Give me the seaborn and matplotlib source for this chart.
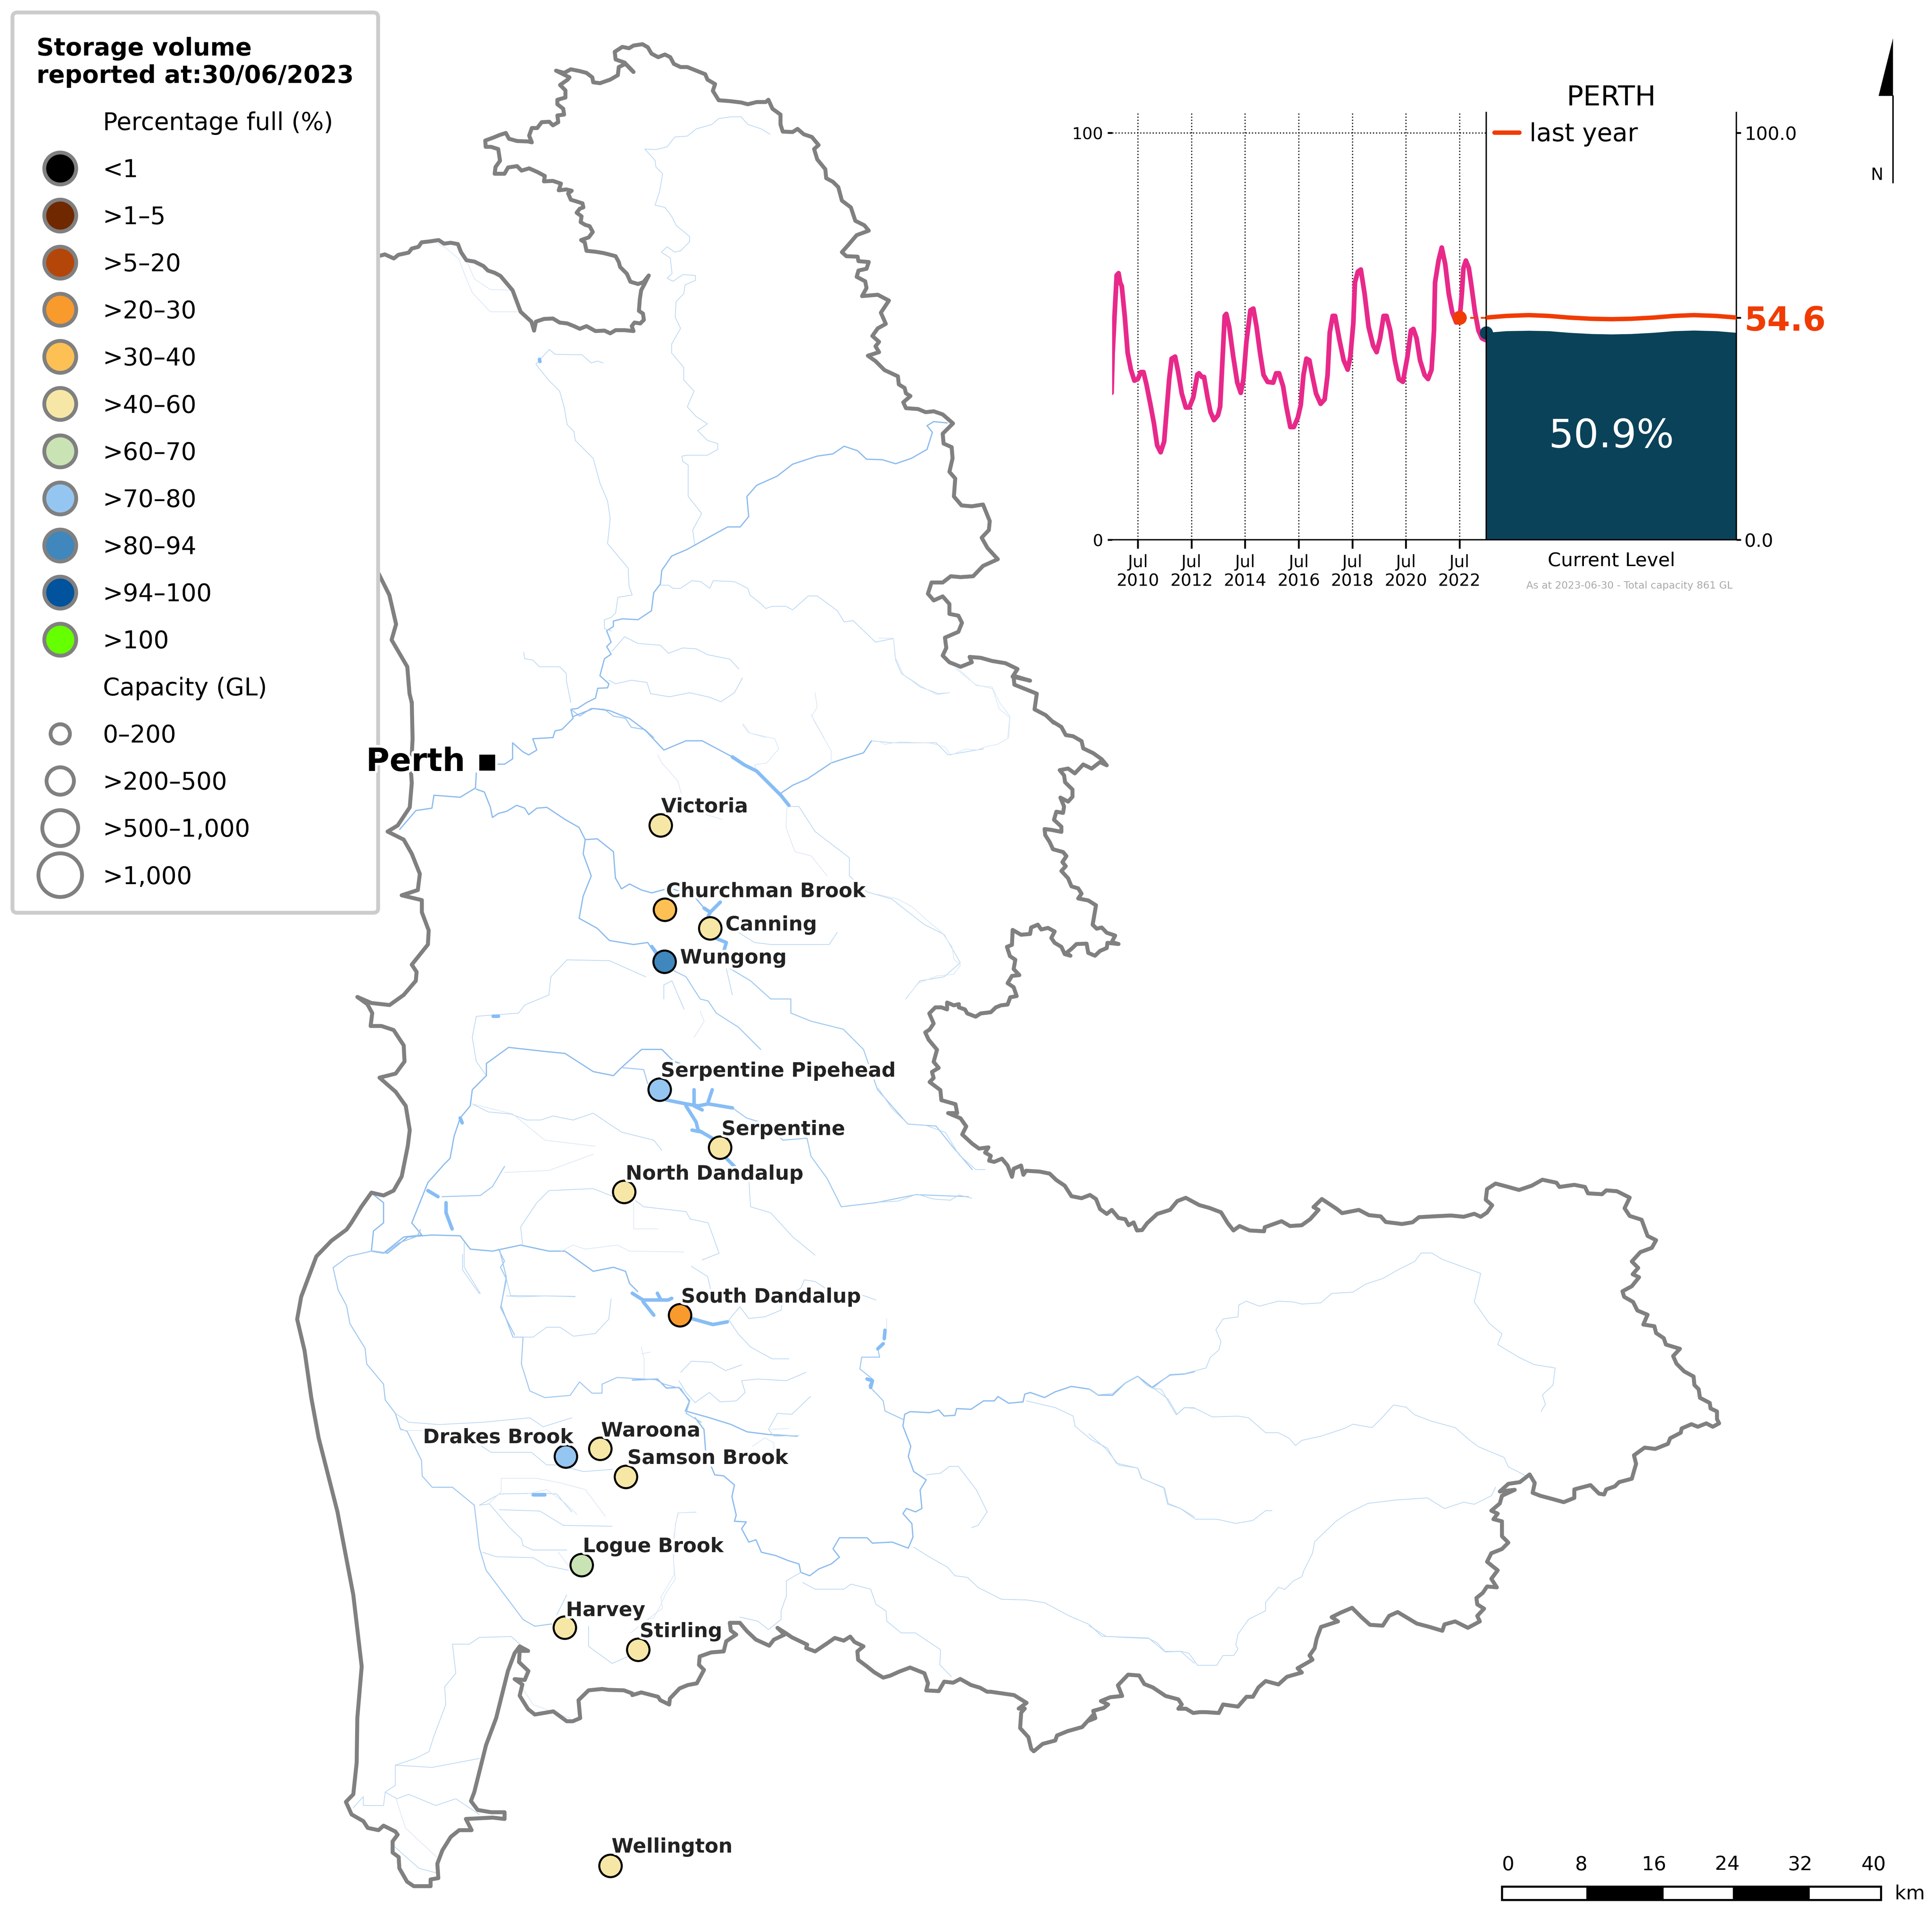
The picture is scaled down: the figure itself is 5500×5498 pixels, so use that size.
import matplotlib
matplotlib.use("Agg")
import matplotlib.pyplot as plt
import matplotlib.patheffects as pe
from matplotlib.lines import Line2D
from matplotlib.patches import Rectangle, Polygon
import numpy as np
import pandas as pd
import seaborn as sns

# ---------- survey frames: origin and scale of each traced sheet (map pixels)
Z4 = (1000, 2000, .871, .871)
Z5 = (1000, 100, .784, .784)
Z6 = (2500, 1800, 1.045, .871)
Z7 = (3100, 3300, .825, .825)
Z8 = (800, 3500, 1.045, .784)
Z9 = (1800, 3600, .98, 1.045)

# ---------- catchment boundary, clockwise from the north-west
boundary_north = [(60,494),(75,490),(95,499),(105,491),(128,486),(135,477),(150,473),(157,463),(175,461),(195,458),(207,466),(222,464),(238,467),(245,485),(257,503),(275,506),(295,516),(305,526),(320,531),(333,538),(360,570),(378,618),(402,640),(408,660),(412,640),(430,634),(450,633),(465,642),(482,644),(497,650),(510,656),(525,650),(545,661),(565,660),(578,666),(590,659),(610,659),(630,661),(626,650),(632,642),(645,644),(653,636),(651,622),(642,616),(644,590),(647,570),(655,555),(664,537),(652,552),(640,556),(623,551),(615,533),(600,518),(597,507),(590,494),(575,490),(563,487),(545,484),(525,482),(521,463),(513,458),(530,452),(539,440),(532,427),(522,424),(512,418),(514,405),(503,397),(510,388),(518,385),(516,376),(500,371),(490,368),(484,354),(492,348),(480,345),(463,347),(468,332),(450,326),(430,327),(432,315),(415,306),(397,298),(380,303),(370,293),(350,296),(342,310),(320,310),(322,295),(332,281),(328,255),(312,250),(300,250),(299,236),(318,229),(330,224),(345,219),(352,232),(370,237),(395,238),(403,240),(397,225),(403,208),(415,208),(425,195),(442,194),(450,202),(462,195),(460,180),(475,178),(473,165),(460,155),(460,145),(478,140),(478,124),(466,112),(483,100),(487,95),(457,80),(475,85),(490,77),(510,81),(525,85),(538,95),(540,106),(555,108),(578,100),(595,90),(597,72),(612,65),(630,83),(610,62),(590,55),(588,38),(605,27),(620,30),(630,24),(650,21),(662,28),(670,42),(685,50),(700,44),(712,50),(720,65),(735,72),(750,72),(770,80),(790,88),(795,100),(812,110),(807,125),(820,146),(845,148),(870,151),(885,155),(905,150),(925,150),(931,145),(940,165),(958,178),(958,200),(963,216),(985,217),(996,210),(1010,222),(1028,228),(1043,246),(1033,255),(1040,278),(1058,300),(1060,320),(1075,328),(1087,340),(1095,370),(1115,385),(1125,415),(1145,425),(1155,437),(1128,447),(1110,468),(1095,485),(1105,494),(1130,495),(1132,505),(1155,507),(1150,522),(1132,526),(1128,540),(1147,550),(1150,565),(1140,583),(1175,580),(1200,593),(1182,620),(1193,645),(1175,655),(1163,672),(1178,685),(1170,695),(1178,708),(1153,716),(1170,728),(1190,748),(1220,762),(1222,780),(1235,788),(1238,800),(1248,806),(1232,820),(1238,833),(1265,835),(1282,842),(1300,840),(1320,847),(1343,867),(1320,890),(1322,912),(1340,920),(1342,945),(1335,975),(1348,990),(1345,1030),(1362,1050),(1385,1052),(1410,1048),(1425,1085),(1423,1105),(1407,1122),(1420,1145),(1443,1170),(1410,1185),(1388,1208),(1360,1210),(1338,1208),(1320,1222),(1295,1222),(1287,1247),(1300,1262),(1320,1253),(1335,1270),(1335,1292),(1355,1296),(1363,1312),(1355,1332),(1325,1345),(1328,1368),(1320,1385),(1335,1400),(1360,1410),(1385,1400),(1380,1388),(1405,1390),(1430,1397),(1460,1402),(1487,1415),(1476,1432),(1515,1441),(1478,1430),(1480,1450),(1505,1460),(1530,1470),(1525,1505),(1550,1518),(1568,1535)]
boundary_east = [(520,222),(545,235),(558,255),(580,258),(605,270),(610,288),(640,300),(665,315),(680,330),(660,322),(635,338),(610,328),(585,350),(565,338),(540,342),(553,355),(556,372),(578,390),(578,408),(565,420),(542,410),(553,432),(550,448),(530,445),(523,465),(545,482),(545,495),(515,490),(495,488),(497,503),(510,520),(520,538),(550,545),(560,555),(548,570),(558,580),(545,592),(565,610),(575,630),(595,635),(605,648),(595,660),(625,665),(648,677),(638,725),(650,735),(665,732),(680,745),(705,752),(695,768),(715,773),(682,770),(680,783),(660,790),(645,802),(625,795),(620,772),(590,773),(575,785),(560,795),(572,802),(555,798),(545,780),(525,770),(515,758),(525,742),(505,733),(485,737),(475,725),(455,732),(452,748),(425,750),(400,738),(398,775),(383,780),(392,803),(408,812),(403,835),(420,850),(398,852),(385,870),(403,880),(412,902),(393,905),(385,923),(365,925),(350,930),(335,942),(305,945),(290,953),(265,945),(258,935),(240,930),(240,922),(225,925),(205,918),(205,935),(188,930),(170,930),(152,945),(165,970),(153,985),(140,992),(150,1010),(175,1035),(165,1065),(180,1080),(160,1090),(165,1105),(153,1115),(185,1135),(188,1160),(230,1170),(235,1192),(208,1192),(245,1205),(262,1225),(250,1245),(280,1268),(300,1280),(328,1277),(318,1290),(335,1298),(330,1310),(345,1313),(368,1305),(385,1322),(398,1350),(403,1330),(425,1322),(432,1345),(440,1335),(480,1337),(510,1342),(530,1358),(555,1372),(575,1398),(605,1403),(630,1395),(648,1405),(660,1430),(680,1442),(695,1432),(715,1452),(735,1455),(745,1470),(760,1463),(770,1483),(785,1482),(800,1465),(830,1442),(868,1432),(890,1410),(915,1402),(955,1420),(985,1427),(1020,1438),(1040,1465),(1057,1483),(1075,1472),(1105,1483),(1148,1485),(1150,1475),(1200,1460),(1225,1472),(1260,1470),(1285,1455),(1310,1432),(1295,1425),(1320,1405),(1365,1430),(1380,1440),(1430,1432),(1460,1445),(1495,1448),(1510,1462),(1540,1465)]
boundary_lobe = [(735,152),(760,148),(775,136),(810,134),(850,132),(880,135),(905,128),(920,135),(935,125),(947,108),(932,95),(935,70),(955,57),(985,65),(1010,72),(1040,62),(1065,48),(1098,55),(1105,65),(1140,60),(1165,65),(1172,80),(1205,82),(1215,73),(1240,75),(1270,90),(1258,115),(1270,133),(1298,142),(1312,180),(1332,190),(1322,208),(1295,218),(1275,240),(1290,255),(1277,270),(1292,277),(1275,298),(1253,310),(1257,323),(1278,335),(1288,355),(1312,365),(1302,388),(1328,392),(1332,408),(1350,420),(1355,435),(1388,445),(1372,462),(1380,480),(1398,498),(1420,510),(1422,530),(1432,540),(1435,560),(1458,572),(1460,585),(1475,592),(1475,610),(1480,620),(1465,628),(1450,620),(1430,628),(1415,622),(1392,632),(1390,642),(1365,655),(1360,668),(1330,680),(1305,677),(1280,695),(1285,715),(1275,750),(1245,758),(1235,768),(1215,775),(1210,787),(1198,785),(1178,765),(1140,775),(1140,795),(1115,805),(1090,798),(1060,790),(1042,783),(1047,760),(1035,740),(1012,758),(985,762),(965,780),(1000,776),(970,790),(965,808),(945,825),(960,832),(950,845),(970,850),(970,885),(985,900),(970,915),(945,925),(935,945),(960,965),(945,985),(958,1005),(935,1003),(925,1018),(910,1030),(912,1045),(928,1055),(912,1072),(918,1085),(890,1100),(860,1085),(835,1092),(830,1107),(800,1098),(770,1090),(750,1078),(725,1063),(705,1072),(690,1095),(660,1093),(640,1075),(618,1053),(590,1065),(570,1075),(585,1085),(545,1098),(535,1125),(530,1148),(518,1165),(525,1175),(490,1195),(500,1205),(465,1215),(445,1233),(415,1225),(398,1240),(385,1262),(370,1262),(350,1285),(315,1280),(305,1300),(275,1298),(260,1298),(245,1300),(228,1290),(210,1290),(218,1280),(210,1268),(180,1260),(150,1240),(130,1232),(118,1212),(92,1210),(68,1235),(78,1260),(50,1263),(28,1272),(45,1280),(35,1288),(10,1295),(15,1312),(0,1318)]
boundary_south = [(1285,1340),(1255,1375),(1215,1387),(1185,1400),(1180,1415),(1145,1425),(1120,1447),(1113,1440),(1105,1405),(1082,1378),(1085,1332),(1095,1320),(1078,1320),(1100,1303),(1065,1280),(1000,1270),(990,1270),(970,1258),(945,1250),(915,1232),(895,1243),(870,1240),(855,1268),(820,1266),(825,1245),(815,1215),(775,1198),(745,1210),(720,1222),(700,1228),(675,1212),(655,1195),(630,1175),(628,1150),(645,1135),(620,1122),(608,1106),(590,1118),(565,1110),(545,1125),(510,1150),(485,1140),(488,1130),(445,1108),(430,1097),(405,1080),(425,1100),(395,1115),(382,1133),(345,1115),(320,1090),(300,1065),(272,1065),(275,1088),(290,1100),(262,1120),(255,1150),(220,1153),(188,1165),(186,1190),(200,1205),(180,1245),(155,1250),(132,1260),(105,1290),(103,1308),(78,1295),(72,1285),(25,1272),(0,1280)]
boundary_southwest = [(1045,1035),(1020,1028),(975,1027),(955,1025),(915,1028),(885,1050),(890,1090),(868,1097),(850,1097),(810,1075),(755,1082),(735,1070),(710,1040),(718,1015),(695,1003),(725,1005),(736,985),(708,965),(710,940),(735,940),(710,930),(695,945),(675,985),(640,1090),(610,1150),(595,1195),(575,1255),(565,1275),(585,1295),(625,1300),(665,1300),(665,1315),(630,1312),(550,1315),(567,1340),(530,1340),(505,1355),(480,1385),(465,1415),(468,1447),(445,1450),(445,1465),(395,1465),(375,1455),(352,1425),(350,1400),(332,1390),(332,1365),(347,1350),(340,1343),(305,1330),(290,1340),(258,1335),(245,1320),(210,1305),(193,1277),(215,1260),(225,1190),(227,1090),(240,975),(215,815),(168,630),(112,465),(90,375),(70,270),(48,200),(60,150),(105,60),(150,25),(195,0)]
boundary_west = [(0,1290),(25,1250),(50,1215),(80,1222),(105,1210),(125,1175),(140,1100),(145,1060),(135,1000),(110,965),(70,930),(110,920),(132,890),(130,850),(105,812),(75,802),(48,802),(52,770),(40,748),(15,730),(50,745),(95,750),(130,725),(160,690),(162,668),(150,650),(190,600),(192,565),(175,520),(175,490),(125,478),(165,465),(170,425),(150,375),(130,340),(90,320),(115,305),(145,260),(150,200),(148,170),(152,90),(150,0)]
boundary_northwest = [(135,1490),(130,1470),(125,1410),(90,1350),(100,1315),(85,1250),(60,1200)]

# ---------- rivers: (sheet, class, points)
rivers = [
 (Z5,"thin",[(935,222),(915,210),(885,200),(870,183),(848,183),(820,187),(805,200),(770,210),(750,226),(722,228),(705,250),(680,256),(655,255),(678,280),(680,295),(695,310),(688,350),(678,380),(700,385),(715,405),(725,425),(755,450),(755,462),(735,482),(722,485),(705,473),(692,485),(712,498),(716,533),(705,543),(718,550),(740,535),(768,537),(768,548),(745,558),(742,578),(725,595),(723,630),(735,655),(715,690),(715,710),(742,742),(742,770),(765,795),(750,830),(770,852),(795,868),(773,883),(795,905),(818,912),(818,925),(795,938),(750,938),(738,940),(740,952),(752,960),(752,1030),(782,1068),(762,1105),(767,1140)]),
 (Z5,"main",[(1330,866),(1300,863),(1285,872),(1297,887),(1285,925),(1250,945),(1215,957),(1185,948),(1150,947),(1130,928),(1100,918),(1075,935),(1040,940),(985,958),(950,985),(905,1005),(883,1030),(887,1075),(868,1098),(840,1098),(800,1120),(750,1148),(715,1163),(693,1195),(690,1225),(675,1245),(670,1285),(640,1305),(605,1303),(585,1308),(585,1320),(570,1330),(580,1355),(570,1365),(580,1382),(565,1392),(555,1430),(575,1448),(572,1457),(550,1458),(545,1480),(525,1490),(505,1503),(490,1505),(495,1525),(470,1550),(455,1553),(450,1568)]),
 (Z4,"main",[(500,87),(450,90),(460,118),(440,130),(425,122),(400,100),(400,140),(380,153),(360,153)]),
 (Z4,"main",[(310,175),(308,212),(270,235),(205,230),(200,262),(160,268),(120,315)]),
 (Z5,"thin",[(562,732),(550,728),(535,732),(515,714),(455,713),(442,702),(412,735),(440,770),(465,795),(475,830),(482,870),(497,885),(500,905),(540,945),(555,1000),(572,1040),(578,1080),(572,1135),(618,1190),(620,1230),(627,1250),(595,1255),(590,1290),(580,1300),(565,1305),(565,1325),(580,1330)]),
 (Z5,"thin",[(690,1228),(708,1228),(718,1235),(735,1235),(760,1218),(780,1220),(800,1235),(808,1218),(855,1220),(885,1235),(890,1250),(915,1270),(925,1280),(940,1275),(970,1275),(985,1283),(1000,1270),(1020,1252),(1040,1252),(1085,1285),(1100,1310),(1120,1307),(1170,1355),(1210,1347),(1215,1395),(1228,1425),(1250,1440),(1270,1455),(1310,1470),(1335,1468)]),
 (Z5,"thin",[(582,1375),(610,1343),(640,1358),(690,1362),(708,1380),(740,1368),(770,1370),(795,1383),(845,1393),(865,1415)]),
 (Z5,"thin",[(575,1440),(590,1448),(625,1440),(660,1445),(668,1470),(710,1477),(755,1468),(800,1478),(825,1488),(855,1468),(873,1435)]),
 (Z5,"thin",[(385,1378),(387,1392),(405,1395),(420,1410),(465,1410),(480,1425),(480,1440),(490,1490)]),
 (Z5,"mid",[(490,1505),(510,1520),(535,1503),(565,1505),(585,1520),(612,1525),(625,1545),(655,1550),(675,1568)]),
 (Z5,"faint",[(1035,1468),(1040,1500),(1028,1520),(1055,1568)]),
 (Z5,"faint",[(1350,1410),(1395,1452),(1430,1455),(1447,1490),(1470,1520),(1465,1568)]),
 (Z5,"faint",[(875,1538),(890,1558),(925,1568)]),
 (Z5,"faint",[(190,465),(210,475),(240,500),(255,540),(270,575),(310,618),(340,618),(375,618)]),
 (Z5,"faint",[(260,510),(275,545),(310,568),(355,570)]),
 (Z4,"main",[(550,35),(600,15),(640,20),(690,40),(730,70),(775,118),(830,95),(870,95),(945,135)]),
 (Z4,"thin",[(1085,258),(1110,258),(1150,320),(1235,385),(1235,430),(1280,470),(1340,487),(1420,550),(1470,575),(1510,645),(1470,680),(1410,690),(1375,735)]),
 (Z4,"main",[(1065,225),(1095,205),(1130,190),(1190,150),(1220,140),(1270,125),(1290,95)]),
 (Z4,"thin",[(1290,95),(1340,100),(1450,100),(1480,130),(1568,115)]),
 (Z4,"faint",[(1190,150),(1190,120),(1150,50),(1140,30)]),
 (Z4,"faint",[(1005,170),(1000,155),(1030,150),(1060,115),(1050,90),(985,75),(970,55)]),
 (Z4,"faint",[(1080,260),(1078,310),(1100,370),(1140,380),(1180,430)]),
 (Z4,"faint",[(760,130),(770,150),(810,195),(818,225)]),
 (Z4,"faint",[(870,275),(920,290)]),
 (Z4,"main",[(310,215),(330,222),(345,260),(350,285),(365,275),(385,270),(410,255),(430,262),(440,278),(460,262),(485,260),(530,290),(565,310),(580,340),(610,338),(650,370),(655,435),(670,462),(690,450),(720,465),(745,472),(790,460),(850,480),(875,510)]),
 (Z4,"main",[(580,340),(575,375),(595,430),(575,480),(565,535),(610,560),(640,590),(700,600),(735,595),(755,625)]),
 (Z4,"mid",[(800,665),(830,680),(865,735),(885,740),(905,770),(960,805),(1015,860)]),
 (Z4,"thin",[(960,570),(1000,595),(1040,600),(1185,600),(1205,570)]),
 (Z4,"mid",[(940,660),(990,690),(1040,735),(1090,735),(1090,770),(1140,790),(1220,810),(1270,860),(1305,960),(1380,1045),(1450,1050),(1490,1100),(1540,1158)]),
 (Z4,"thin",[(930,660),(945,725)]),
 (Z4,"thin",[(775,735),(775,700),(795,690),(825,760)]),
 (Z4,"faint",[(865,765),(875,790),(850,830)]),
 (Z4,"thin",[(730,680),(640,640),(535,638),(495,680),(490,725),(430,750),(415,770),(310,778),(300,830),(310,890),(335,925)]),
 (Z4,"main",[(335,925),(300,960),(295,1000),(270,1030),(255,1075),(245,1130),(230,1145),(190,1190),(150,1290),(175,1320),(130,1325),(80,1365),(50,1360),(55,1310),(80,1290),(80,1240),(55,1220)]),
 (Z4,"main",[(335,925),(335,895),(390,855),(480,865),(530,870),(600,915),(650,925),(670,905),(720,860),(770,860),(800,890),(850,905),(865,900)]),
 (Z4,"mid",[(670,905),(725,910),(735,945)]),
 (Z4,"mid",[(945,1005),(980,1030),(1030,1045),(1070,1085),(1130,1080),(1140,1125),(1180,1180),(1215,1250),(1300,1240),(1400,1220),(1530,1225)]),
 (Z4,"thin",[(300,995),(340,1015),(395,1020),(435,1035),(470,1035),(500,1025),(550,1035),(600,1018),(640,1045),(670,1065),(750,1085),(770,1110)]),
 (Z4,"faint",[(300,995),(400,1020),(480,1085),(605,1100)]),
 (Z4,"mid",[(225,1225),(320,1222),(350,1200),(380,1150)]),
 (Z4,"faint",[(380,1165),(490,1160),(600,1120)]),
 (Z4,"main",[(55,1360),(90,1365),(140,1325),(200,1320),(270,1322),(295,1355),(350,1360),(420,1345),(490,1360),(530,1360),(600,1410),(650,1400),(680,1410),(690,1440),(710,1460)]),
 (Z4,"thin",[(280,1340),(280,1400),(320,1465)]),
 (Z4,"mid",[(365,1355),(380,1385),(370,1400),(385,1430),(370,1500),(405,1568)]),
 (Z4,"thin",[(385,1430),(395,1470),(555,1472)]),
 (Z4,"faint",[(520,1360),(550,1345),(580,1355),(660,1345),(690,1360),(825,1362)]),
 (Z4,"thin",[(650,1225),(600,1205),(490,1210),(460,1240),(420,1300),(425,1345)]),
 (Z4,"thin",[(705,1235),(725,1250),(830,1262),(840,1280),(885,1290),(912,1365),(870,1382)]),
 (Z4,"faint",[(700,1240),(700,1305),(760,1305)]),
 (Z4,"thin",[(985,1170),(990,1250),(1040,1265),(1095,1325),(1150,1370)]),
 (Z9,"thin",[(265,170),(300,125),(325,160),(370,155),(415,135),(420,100),(470,70),(480,45),(510,50),(560,85),(640,90),(680,105)]),
 (Z9,"thin",[(270,165),(295,205),(330,245),(390,280),(437,280)]),
 (Z9,"thin",[(165,5),(210,35),(220,80),(250,100)]),
 (Z9,"main",[(0,343),(70,340),(95,367),(130,365),(160,405),(148,435),(215,455),(275,475),(320,497),(380,505),(460,510)]),
 (Z9,"main",[(175,455),(200,490),(205,560),(230,625),(255,628),(285,655),(278,690),(290,745),(285,763),(318,765),(305,785),(325,825),(345,818),(360,855),(400,865),(435,880),(465,890),(470,915),(495,925),(520,905),(555,890),(578,870),(560,845),(578,812),(655,812),(670,828),(725,825),(770,843),(783,810),(780,770),(755,740),(765,725),(790,735),(808,725),(803,670),(820,640),(785,615),(770,570),(777,540),(755,480),(760,445),(775,437),(830,440),(855,432),(870,450),(900,448),(905,428),(945,430),(980,405),(1010,405),(1020,392),(1050,412),(1090,408),(1095,385),(1110,380),(1150,395),(1180,378),(1225,362),(1275,370),(1300,388),(1340,388),(1375,352),(1410,332),(1450,365),(1500,328),(1540,325),(1568,318)]),
 (Z9,"thin",[(1100,405),(1180,425),(1230,450),(1235,480),(1280,520),(1325,545),(1350,590),(1410,605),(1420,635),(1485,665),(1495,710),(1530,725),(1568,750)]),
 (Z9,"mid",[(755,460),(705,435),(700,405),(660,360),(670,340),(635,310),(640,275),(690,275),(685,250)]),
 (Z9,"faint",[(710,160),(710,195)]),
 (Z9,"thin",[(1455,368),(1495,400),(1520,445),(1540,425),(1568,425)]),
 (Z9,"thin",[(820,625),(860,620),(885,600),(910,600),(960,670),(990,735),(965,775),(947,782)]),
 (Z9,"thin",[(785,840),(830,870),(880,900),(900,925),(935,930),(965,960),(1030,995),(1100,997),(1150,1005),(1220,1045),(1275,1070),(1310,1105),(1440,1110),(1485,1150),(1530,1150),(1568,1185)]),
 (Z9,"thin",[(470,915),(430,940),(430,985),(415,1030),(415,1055),(380,1085),(350,1060),(300,1048)]),
 (Z9,"thin",[(475,945),(510,965),(590,965),(610,950),(665,965),(680,1010),(708,1030),(710,1060),(750,1095),(790,1095),(860,1145),(858,1190),(890,1225)]),
 (Z9,"thin",[(135,320),(165,287),(220,290),(260,315),(305,298)]),
 (Z9,"thin",[(130,345),(150,380),(175,410),(215,380),(245,408),(290,405),(315,380),(305,345),(350,340),(430,345),(485,320)]),
 (Z9,"thin",[(380,490),(405,442),(445,445),(497,392)]),
 (Z9,"thin",[(380,490),(395,510),(465,508)]),
 (Z9,"faint",[(385,490),(437,487)]),
 (Z9,"faint",[(335,540),(370,515),(395,530),(395,550)]),
 (Z9,"faint",[(178,737),(130,738),(120,770),(115,880),(120,935),(95,975),(80,1010),(60,1050),(35,1058)]),
 (Z9,"faint",[(25,245),(33,280),(33,340)]),
 (Z9,"faint",[(25,265),(50,260)]),
 (Z8,"mid",[(155,85),(200,60),(270,48),(310,52),(350,30),(405,15),(415,0)]),
 (Z8,"mid",[(155,85),(170,135),(195,170),(205,210),(250,265),(255,300),(305,345),(310,380),(340,410),(355,445),(375,450),(418,515),(420,550),(450,575),(510,575),(575,615),(590,710),(610,760),(670,820),(720,870),(755,885),(805,880)]),
 (Z8,"thin",[(340,410),(380,430),(470,435),(600,430),(740,420),(780,440),(865,420)]),
 (Z8,"faint",[(355,448),(590,450)]),
 (Z8,"thin",[(590,480),(625,497),(745,497),(790,525),(820,525),(900,540),(985,535)]),
 (Z8,"thin",[(590,615),(650,590),(780,588),(820,590),(865,630)]),
 (Z8,"thin",[(590,615),(620,612),(680,665),(715,690),(720,705),(750,715),(800,715),(850,715)]),
 (Z8,"thin",[(600,720),(640,730),(750,732),(790,750),(855,760)]),
 (Z8,"faint",[(825,720),(860,755)]),
 (Z8,"faint",[(620,610),(655,585),(655,555),(760,555),(830,565),(905,580),(965,640)]),
 (Z8,"faint",[(730,590),(790,580),(845,610),(880,635)]),
 (Z8,"thin",[(650,625),(770,628),(840,660),(985,662)]),
 (Z8,"thin",[(540,55),(540,90),(590,143)]),
 (Z8,"mid",[(650,45),(670,105),(655,170),(690,240),(720,240),(715,300),(740,360),(785,375),(860,370),(888,340),(925,365),(955,365),(955,345),(1000,330),(1115,335),(1140,345),(1190,355),(1215,385),(1205,410),(1250,430)]),
 (Z8,"thin",[(690,240),(750,240),(790,218),(830,218),(870,238),(935,232),(975,200),(982,155)]),
 (Z8,"thin",[(670,148),(710,150),(790,148),(875,150)]),
 (Z8,"thin",[(740,945),(685,908),(590,910),(560,925),(510,925),(520,990),(487,1020),(490,1060),(455,1130),(440,1165),(400,1180),(340,1195),(340,1240),(310,1255),(305,1285),(245,1285),(245,1265),(215,1290)]),
 (Z8,"thin",[(340,1195),(450,1200),(590,1180)]),
 (Z8,"thin",[(310,1255),(345,1270),(380,1260),(460,1285),(520,1270),(590,1305)]),
 (Z8,"faint",[(340,1265),(370,1335),(470,1405)]),
 (Z8,"thin",[(335,1375),(410,1425),(460,1435)]),
 (Z8,"faint",[(720,1025),(750,1060),(860,1090)]),
 (Z8,"faint",[(1235,630),(1180,632),(1165,700),(1170,770),(1130,820),(1135,845),(1090,870),(1040,900)]),
 (Z8,"thin",[(820,860),(850,815)]),
 (Z8,"thin",[(915,885),(915,930),(985,968),(1040,950)]),
 (Z7,"thin",[(0,540),(20,553),(55,550),(85,525),(115,510),(135,530),(150,538),(190,505),(225,503),(275,490),(285,465),(305,448),(310,428),(298,400),(315,375),(350,370),(352,342),(370,333),(400,345),(445,333),(480,335),(500,340),(545,337),(570,315),(620,312),(650,293),(690,280),(725,260),(765,240),(780,220),(805,220),(830,235),(920,268),(905,335),(940,385),(970,410),(960,435),(1010,465),(1045,482),(1095,490),(1090,530),(1065,553),(1072,575),(1062,592)]),
 (Z7,"thin",[(150,538),(170,540),(190,575),(205,600),(225,583),(250,585),(290,605),(350,603),(375,607),(415,642),(445,642),(470,655),(485,672),(500,660),(545,650),(600,632),(620,622),(665,630),(690,605),(715,577),(745,582),(765,600),(805,615),(860,630),(895,660),(915,675),(975,700),(985,722),(1030,745)]),
 (Z7,"thin",[(0,645),(40,680),(70,718),(115,725),(125,750),(175,770),(185,810),(215,820),(250,845),(300,845),(345,855),(385,848),(415,825),(430,825)]),
 (Z7,"thin",[(955,770),(945,790),(905,810),(880,805),(835,820),(795,795),(720,800),(655,808),(610,830),(580,850),(530,898),(525,925),(505,965),(500,980),(480,990),(460,1010),(445,1005),(415,1040),(415,1060),(375,1080),(350,1115),(345,1140),(350,1150),(340,1165),(315,1165),(300,1188),(255,1188),(235,1160),(215,1155),(180,1157),(160,1135),(140,1125),(90,1123),(40,1120),(0,1095)]),
 (Z6,"faint",[(0,15),(45,15),(50,60),(75,105),(130,135),(175,155),(212,150)]),
 (Z6,"faint",[(230,90),(290,130),(340,140),(360,190),(392,212),(388,262),(355,278),(315,285),(295,292),(260,290),(215,305),(200,285),(155,275),(65,272),(20,278),(0,270)]),
 (Z6,"faint",[(0,650),(60,662),(100,680),(140,710),(190,745),(220,780),(225,810),(245,825),(225,848),(175,852),(120,870),(85,905)]),
 (Z6,"thin",[(0,1130),(40,1180),(90,1220),(140,1222),(200,1240),(240,1295),(290,1332),(318,1332)]),
 (Z6,"thin",[(0,1413),(60,1410),(115,1393),(165,1405),(215,1408),(240,1395),(278,1403)]),
]
lakes = [
 (Z4,[(945,135),(975,155),(1005,170),(1030,195),(1065,230),(1085,255)]),
 (Z4,[(875,510),(890,520),(915,495)]),
 (Z4,[(890,520),(885,530)]),
 (Z4,[(905,585),(930,595),(925,612)]),
 (Z4,[(745,605),(760,625),(790,660)]),
 (Z4,[(780,985),(830,995),(860,1000),(885,995),(945,1005)]),
 (Z4,[(850,960),(850,1000),(870,1010)]),
 (Z4,[(830,1000),(855,1040),(860,1060),(895,1080)]),
 (Z4,[(885,990),(895,960)]),
 (Z4,[(845,1060),(870,1065)]),
 (Z4,[(930,1130),(950,1150)]),
 (Z4,[(190,1210),(215,1225)]),
 (Z4,[(235,1240),(235,1265),(250,1305)]),
 (Z4,[(352,778),(365,778)]),
 (Z4,[(270,1030),(275,1042)]),
 (Z9,[(0,85),(30,105),(100,105),(110,100)]),
 (Z9,[(30,110),(60,150)]),
 (Z9,[(70,85),(80,105)]),
 (Z9,[(165,160),(225,178),(265,170)]),
 (Z9,[(700,235),(685,250)]),
 (Z9,[(705,195),(703,220)]),
 (Z9,[(655,340),(670,345),(665,365)]),
 (Z8,[(750,592),(785,592)]),
 (Z5,[(420,724),(421,729)]),
]

# ---------- reservoirs
res_names = ["Victoria","Churchman Brook","Canning","Wungong","Serpentine Pipehead","Serpentine",
             "North Dandalup","South Dandalup","Drakes Brook","Waroona","Samson Brook","Logue Brook",
             "Harvey","Stirling","Wellington"]
res_x = [1881,1893,2022,1892,1878,2050,1777,1936,1611,1709,1782,1656,1608,1817,1738]
res_y = [2350,2590,2643,2738,3102,3267,3393,3744,4146,4124,4204,4455,4633,4696,5311]
res_class = [">40–60",">30–40",">40–60",">80–94",">70–80",">40–60",">40–60",">20–30",">70–80",">40–60",
             ">40–60",">60–70",">40–60",">40–60",">40–60"]
label_x = [1882,1896,2065,1936,1881,2054,1781,1939,1204,1711,1786,1659,1611,1821,1741]
label_y = [2313,2554,2649,2743,3065,3231,3358,3708,4108,4089,4167,4418,4600,4660,5273]

pct_classes = ["<1",">1–5",">5–20",">20–30",">30–40",">40–60",">60–70",">70–80",">80–94",">94–100",">100"]
pct_colors = ["#000000","#702800","#b5460a","#f99a2d","#fdc055","#f7e7a6","#c9e3b4","#95c6f2","#3f87bc","#00539c","#66ff00"]
cap_classes = ["0–200",">200–500",">500–1,000",">1,000"]
cap_marker_pt = [13.2,18.7,24.5,29.8]

# ---------- inset: storage percentage
series_year = [2009.52,2009.56,2009.63,2009.71,2009.78,2009.84,2009.90,2010.01,2010.12,2010.24,2010.37,2010.50,2010.61,2010.71,2010.82,2010.97,2011.10,2011.22,2011.35,2011.48,2011.57,2011.67,2011.76,2011.89,2012.00,2012.14,2012.29,2012.42,2012.57,2012.72,2012.78,2012.89,2012.97,2013.10,2013.21,2013.34,2013.49,2013.57,2013.63,2013.74,2013.80,2013.91,2014.06,2014.21,2014.34,2014.44,2014.55,2014.70,2014.81,2014.93,2015.06,2015.19,2015.34,2015.55,2015.66,2015.77,2015.92,2016.04,2016.19,2016.32,2016.47,2016.58,2016.68,2016.79,2016.90,2017.02,2017.15,2017.32,2017.47,2017.58,2017.66,2017.77,2017.86,2018.01,2018.18,2018.33,2018.43,2018.54,2018.60,2018.71,2018.82,2018.96,2019.11,2019.28,2019.41,2019.54,2019.67,2019.78,2019.92,2020.09,2020.24,2020.39,2020.56,2020.69,2020.78,2020.90,2021.03,2021.20,2021.33,2021.46,2021.55,2021.59,2021.72,2021.84,2021.97,2022.10,2022.23,2022.38,2022.50,2022.59,2022.65,2022.74,2022.85,2022.95,2023.08,2023.21,2023.34,2023.46]
series_pct = [36.1,45.9,55.0,65.0,65.5,63.2,62.3,55.0,45.9,41.8,39.1,39.5,41.2,41.2,38.2,33.2,28.6,23.2,21.5,24.1,31.4,39.5,44.5,45.0,41.4,35.9,32.5,32.5,35.0,40.6,40.9,40.0,40.0,35.0,31.4,29.4,30.6,32.7,40.5,55.0,55.5,52.3,45.0,38.6,36.1,39.5,48.6,56.4,56.8,52.3,45.9,40.5,38.8,38.6,40.9,40.9,37.7,32.7,27.7,27.7,30.0,33.2,40.5,44.5,44.1,40.0,35.9,33.4,34.5,40.5,50.9,55.0,55.0,49.5,44.1,41.8,45.0,53.2,63.2,65.9,66.4,60.5,52.3,47.7,46.1,49.5,55.0,55.0,51.4,44.1,39.5,38.8,45.0,51.4,51.8,49.5,44.1,40.5,39.5,41.8,51.4,63.2,68.6,71.8,67.7,60.5,55.9,53.4,53.6,60.5,66.8,68.6,66.8,62.3,55.9,51.4,49.5,49.1]
tick_years = [2010.5,2012.5,2014.5,2016.5,2018.5,2020.5,2022.5]
tick_names = ["Jul\n2010","Jul\n2012","Jul\n2014","Jul\n2016","Jul\n2018","Jul\n2020","Jul\n2022"]
current_pct = 50.9
last_year_pct = 54.6
last_year_date = 2022.5
wave_pos = [0,.08,.17,.25,.33,.42,.5,.58,.67,.75,.83,.92,1]
wave_current = [50.9,51.3,51.4,51.3,50.9,50.6,50.5,50.6,50.9,51.3,51.45,51.3,50.9]
wave_last = [54.6,55.0,55.2,55.0,54.6,54.3,54.2,54.3,54.6,55.0,55.2,55.0,54.6]
scale_km = [0,8,16,24,32,40]
scale_edges = [4276,4519,4733,4936,5149,5355]

# ---------- setup
W, H, DPI = 5500, 5499, 300
sns.set_theme(style="ticks", rc={"axes.linewidth":0.9,"text.color":"black","axes.labelcolor":"black",
                                 "xtick.color":"black","ytick.color":"black","axes.edgecolor":"black",
                                 "font.family":"DejaVu Sans"})
fig = plt.figure(figsize=(W/DPI, H/DPI), dpi=DPI, facecolor="white")
def px_axes(x0, y0, x1, y1, **kw):
    return fig.add_axes([x0/W, 1-y1/H, (x1-x0)/W, (y1-y0)/H], **kw)
def conv(frame, pts):
    a = np.array(pts, float)
    return frame[0]+a[:,0]/frame[2], frame[1]+a[:,1]/frame[3]

ax = fig.add_axes([0,0,1,1])
ax.set_xlim(0,W); ax.set_ylim(H,0); ax.axis("off")

# rivers + lakes
styles = {"main":("#8cbcee",.85),"mid":("#a0c9f0",.7),"thin":("#b9d7f3",.5),"faint":("#d8e7f6",.45)}
for frame, cls, pts in rivers:
    x, y = conv(frame, pts)
    c, lw = styles[cls]
    ax.plot(x, y, color=c, lw=lw, zorder=1, solid_joinstyle="round")
for frame, pts in lakes:
    x, y = conv(frame, pts)
    ax.plot(x, y, color="#87bdf5", lw=2.4, zorder=1.2, solid_capstyle="round")

# boundary
bx, by = [], []
for frame, pts in [(Z5,boundary_north),(Z6,boundary_east),(Z7,boundary_lobe),(Z9,boundary_south),
                   (Z8,boundary_southwest),(Z4,boundary_west),(Z5,boundary_northwest)]:
    x, y = conv(frame, pts)
    bx += list(x); by += list(y)
ax.plot(bx, by, color="#808080", lw=2.7, zorder=2, solid_joinstyle="round")

# reservoirs
res = pd.DataFrame({"x":res_x,"y":res_y,"cls":res_class})
sns.scatterplot(data=res, x="x", y="y", hue="cls", palette=dict(zip(pct_classes,pct_colors)),
                s=235, edgecolor="black", linewidth=1.4, legend=False, ax=ax, zorder=4)
ax.set_xlim(0,W); ax.set_ylim(H,0); ax.axis("off")
halo = [pe.withStroke(linewidth=3.5, foreground="white")]
for n, x, y in zip(res_names, label_x, label_y):
    ax.text(x, y, n, fontsize=13.6, fontweight="bold", color="#222222", ha="left", va="baseline",
            path_effects=halo, zorder=5)
ax.text(1042, 2195, "Perth ▪", fontsize=21.9, fontweight="bold", color="black", ha="left", va="baseline",
        path_effects=halo, zorder=12)

# north arrow
ax.add_patch(Polygon([(5389,110),(5348,274),(5389,274)], closed=True, color="black", lw=0, zorder=3))
ax.plot([5389,5389],[274,521], color="black", lw=1.0, zorder=3)
ax.text(5343, 498, "N", fontsize=11.5, ha="center", va="center")

# scale bar
for i in range(5):
    ax.add_patch(Rectangle((scale_edges[i],5370), scale_edges[i+1]-scale_edges[i], 38,
                           facecolor="black" if i%2 else "white", edgecolor="black", lw=1.4, zorder=3))
for km in scale_km:
    ax.text(4293+26*km, 5322, str(km), fontsize=13.3, ha="center", va="baseline")
ax.text(5394, 5405, "km", fontsize=13.3, ha="left", va="baseline")

# footnote
ax.text(4639, 1667, "As at 2023-06-30 - Total capacity 861 GL", fontsize=6.9, color="#aaaaaa", ha="center", va="center")

# legend
handles = [Line2D([],[],ls="none",label="Percentage full (%)")]
for c, l in zip(pct_colors, pct_classes):
    handles.append(Line2D([],[],ls="none",marker="o",ms=21.8,mfc=c,mec="#808080",mew=2.6,label=l))
handles.append(Line2D([],[],ls="none",label="Capacity (GL)"))
for s, l in zip(cap_marker_pt, cap_classes):
    handles.append(Line2D([],[],ls="none",marker="o",ms=s,mfc="white",mec="#808080",mew=2.6,label=l))
leg = ax.legend(handles=handles, loc="upper left", bbox_to_anchor=(35/W,1-36/H), bbox_transform=fig.transFigure,
                borderaxespad=0, fontsize=16.5, labelspacing=.976, handlelength=1.95, handletextpad=.8, borderpad=1.0,
                frameon=True, framealpha=1, facecolor="white", edgecolor="#cccccc", numpoints=1,
                title="Storage volume\nreported at:30/06/2023", title_fontproperties={"weight":"bold","size":16.5},
                alignment="left")
leg.get_frame().set_linewidth(2.6)
leg.set_zorder(10)

# inset: history
a1 = px_axes(3166,321,4231,1537, facecolor="none")
sns.lineplot(x=series_year, y=series_pct, sort=False, estimator=None, color="#e8298a", lw=3.2, ax=a1, zorder=3)
a1.scatter([last_year_date],[last_year_pct], s=74, color="#f03c02", zorder=5, clip_on=False)
a1.plot([last_year_date,2023.5],[last_year_pct]*2, color="#f03c02", lw=1.2, ls=(0,(4,2)), zorder=4)
a1.scatter([2023.5],[current_pct], s=64, color="#0a4259", zorder=5, clip_on=False)
a1.set_xlim(2009.54,2023.5); a1.set_ylim(0,105)
a1.set_xticks(tick_years); a1.set_xticklabels(tick_names, fontsize=11.5)
a1.set_yticks([0,100]); a1.set_yticklabels(["0","100"], fontsize=11.2)
a1.tick_params(axis="y", length=3.1, pad=3)
a1.grid(True, axis="both", color="black", ls=":", lw=.8)
a1.set_axisbelow(True)
for s in ["top","right","left"]:
    a1.spines[s].set_visible(False)

# inset: current level
a2 = px_axes(4231,321,4943,1537, facecolor="none")
sns.lineplot(x=wave_pos, y=wave_last, color="#f03c02", lw=3.0, ax=a2, zorder=3, label="last year")
a2.fill_between(wave_pos, 0, wave_current, color="#0a4259", lw=0, zorder=2)
a2.set_xlim(0,1); a2.set_ylim(0,105)
a2.set_xticks([.5]); a2.set_xticklabels(["Current Level"], fontsize=13)
a2.tick_params(axis="x", length=0, pad=8)
a2.yaxis.tick_right()
a2.tick_params(axis="y", length=3, pad=2.5)
a2.set_yticks([0,last_year_pct,100]); a2.set_yticklabels(["0.0","54.6","100.0"], fontsize=12.5)
t = a2.get_yticklabels()[1]; t.set_color("#f03c02"); t.set_fontweight("bold"); t.set_fontsize(22.6)
a2.spines["top"].set_visible(False)
a2.text(.5, 25.5, f"{current_pct}%", color="white", fontsize=27, ha="center", va="center", zorder=4)
a2.text(.5, 1.004, "PERTH", transform=a2.transAxes, fontsize=19, ha="center", va="bottom")
lg2 = a2.legend(loc="upper left", bbox_to_anchor=(.003,.995), frameon=False, fontsize=17, handlelength=1.0,
                handletextpad=.4, borderaxespad=.15, borderpad=.15)

fig.savefig("out.png", dpi=DPI, facecolor="white")
